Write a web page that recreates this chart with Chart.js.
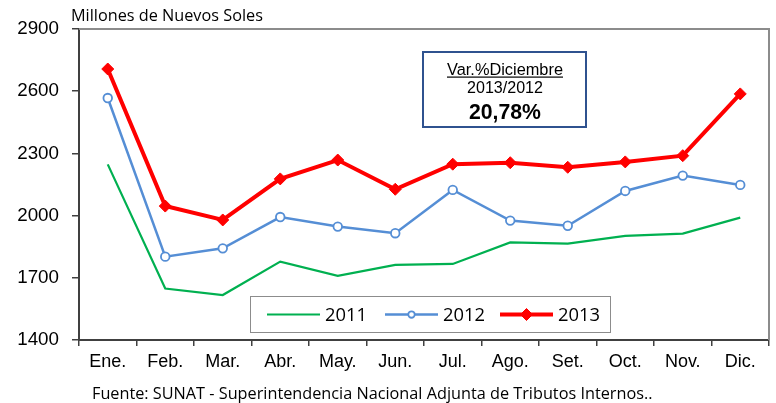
<!DOCTYPE html>
<html>
<head>
<meta charset="utf-8">
<script src="https://cdn.jsdelivr.net/npm/chart.js@4.4.0/dist/chart.umd.min.js"></script>
<style>
  html, body { margin: 0; padding: 0; background: #fff; }
  #wrap { width: 776px; height: 403px; }
</style>
</head>
<body>
<div id="wrap"><canvas id="resultChart" width="776" height="403"></canvas></div>
<script>
const months = ['Ene.', 'Feb.', 'Mar.', 'Abr.', 'May.', 'Jun.', 'Jul.', 'Ago.', 'Set.', 'Oct.', 'Nov.', 'Dic.'];
const values2011 = [2247, 1648, 1617, 1778, 1709, 1762, 1767, 1871, 1865, 1902, 1913, 1990];
const values2012 = [2567, 1802, 1842, 1993, 1947, 1915, 2124, 1976, 1951, 2119, 2193, 2148];
const values2013 = [2707, 2046, 1979, 2177, 2268, 2127, 2248, 2255, 2233, 2259, 2289, 2587];
const yTicks = [1400, 1700, 2000, 2300, 2600, 2900];

const unitLabel = 'Millones de Nuevos Soles';
const sourceNote = 'Fuente: SUNAT - Superintendencia Nacional Adjunta de Tributos Internos..';
const boxLines = ['Var.%Diciembre', '2013/2012', '20,78%'];

const sans = '"Liberation Sans", Arial, sans-serif';
const calibri = '"Open Sans", "Noto Sans", sans-serif';

// writes text so it spans a given width
function fitText(ctx, text, x, y, width, family, weight) {
  const w0 = weight ? weight + ' ' : '';
  ctx.font = w0 + '20px ' + family;
  const size = 20 * width / ctx.measureText(text).width;
  ctx.font = w0 + size.toFixed(2) + 'px ' + family;
  ctx.fillText(text, x, y);
}

// frame, note box, custom legend and texts
const extras = {
  id: 'extras',
  beforeDatasetsDraw(chart) {
    const { ctx, chartArea: a } = chart;
    ctx.save();
    ctx.strokeStyle = '#8c8c8c';
    ctx.lineWidth = 2;
    ctx.beginPath();
    ctx.moveTo(a.left, a.top);
    ctx.lineTo(a.right, a.top);
    ctx.lineTo(a.right, a.bottom);
    ctx.stroke();
    ctx.restore();
  },
  afterDraw(chart) {
    const { ctx } = chart;
    ctx.save();
    ctx.fillStyle = '#000';
    ctx.textBaseline = 'middle';
    ctx.textAlign = 'left';
    fitText(ctx, unitLabel, 71, 16, 192, calibri);
    fitText(ctx, sourceNote, 92, 394, 561, calibri);

    // note box
    ctx.fillStyle = '#fff';
    ctx.fillRect(423, 52, 163, 75);
    ctx.strokeStyle = '#2f528f';
    ctx.lineWidth = 2;
    ctx.strokeRect(423, 52, 163, 75);
    ctx.fillStyle = '#000';
    ctx.textAlign = 'center';
    ctx.textBaseline = 'alphabetic';
    fitText(ctx, boxLines[0], 505, 74.5, 116, sans);
    ctx.fillRect(447, 76.5, 116, 1.2);
    fitText(ctx, boxLines[1], 505, 92.5, 76, sans);
    fitText(ctx, boxLines[2], 505, 119, 72, sans, 'bold');
    ctx.textBaseline = 'middle';

    // legend
    ctx.fillStyle = '#fff';
    ctx.fillRect(250, 296, 361, 37);
    ctx.strokeStyle = '#8c8c8c';
    ctx.lineWidth = 1;
    ctx.strokeRect(250.5, 296.5, 360, 36);
    const items = [
      { ds: chart.data.datasets[0], x: 267 },
      { ds: chart.data.datasets[1], x: 385 },
      { ds: chart.data.datasets[2], x: 500 }
    ];
    const ly = 314.5;
    items.forEach(it => {
      const ds = it.ds;
      const cx = it.x + 26.5;
      ctx.strokeStyle = ds.borderColor;
      ctx.lineWidth = ds.borderWidth;
      ctx.beginPath();
      ctx.moveTo(it.x, ly);
      ctx.lineTo(it.x + 53, ly);
      ctx.stroke();
      if (ds.pointRadius > 0) {
        ctx.fillStyle = ds.pointBackgroundColor;
        ctx.strokeStyle = ds.pointBorderColor;
        ctx.lineWidth = ds.pointBorderWidth;
        ctx.beginPath();
        if (ds.pointStyle === 'circle') {
          ctx.arc(cx, ly, ds.pointRadius * 0.75, 0, Math.PI * 2);
        } else {
          const r = ds.pointRadius;
          ctx.moveTo(cx, ly - r);
          ctx.lineTo(cx + r, ly);
          ctx.lineTo(cx, ly + r);
          ctx.lineTo(cx - r, ly);
          ctx.closePath();
        }
        ctx.fill();
        ctx.stroke();
      }
      ctx.fillStyle = '#000';
      ctx.textAlign = 'left';
      fitText(ctx, ds.label, it.x + 58, ly + 1, 42, calibri);
    });
    ctx.restore();
  }
};

new Chart(document.getElementById('resultChart'), {
  type: 'line',
  data: {
    labels: months,
    datasets: [
      {
        label: '2011',
        data: values2011,
        borderColor: '#00b050',
        backgroundColor: '#00b050',
        borderWidth: 2.2,
        pointRadius: 0,
        pointHoverRadius: 0,
        tension: 0
      },
      {
        label: '2012',
        data: values2012,
        borderColor: '#558ed5',
        backgroundColor: '#558ed5',
        borderWidth: 2.5,
        pointStyle: 'circle',
        pointRadius: 4.3,
        pointBackgroundColor: '#fff',
        pointBorderColor: '#558ed5',
        pointBorderWidth: 1.8,
        tension: 0
      },
      {
        label: '2013',
        data: values2013,
        borderColor: '#ff0000',
        backgroundColor: '#ff0000',
        borderWidth: 4,
        pointStyle: 'rectRot',
        pointRadius: 6,
        pointBackgroundColor: '#ff0000',
        pointBorderColor: '#ff0000',
        pointBorderWidth: 1,
        tension: 0
      }
    ]
  },
  options: {
    responsive: false,
    animation: false,
    devicePixelRatio: 1,
    layout: { padding: { top: 29, right: 3, left: 0, bottom: 0 } },
    plugins: {
      legend: { display: false },
      tooltip: { enabled: false },
      title: { display: false }
    },
    scales: {
      x: {
        offset: true,
        grid: { display: true, offset: true, drawOnChartArea: false, drawTicks: true, tickLength: 6, color: '#404040', lineWidth: 1.5 },
        border: { color: '#404040', width: 2 },
        ticks: { color: '#000', font: { family: sans, size: 18 }, padding: 5, maxRotation: 0, autoSkip: false },
        afterFit: s => { s.height = 63; }
      },
      y: {
        min: 1400,
        max: 2900,
        afterBuildTicks: s => { s.ticks = yTicks.map(v => ({ value: v })); },
        grid: { display: true, drawOnChartArea: false, drawTicks: true, tickLength: 7, color: '#404040', lineWidth: 1.5 },
        border: { color: '#404040', width: 2 },
        ticks: { color: '#000', font: { family: sans, size: 18.8 }, padding: 13, callback: v => String(v) },
        afterFit: s => { s.width = 79; }
      }
    }
  },
  plugins: [extras]
});
</script>
</body>
</html>
